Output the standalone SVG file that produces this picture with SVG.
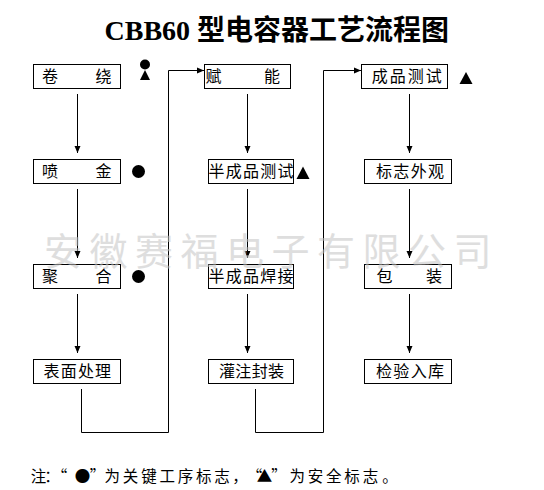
<svg xmlns="http://www.w3.org/2000/svg" width="544" height="490" viewBox="0 0 544 490">
<style>
.box{fill:#fff;stroke:#000;stroke-width:1}
.lbl{font-family:"Noto Sans CJK SC","Noto Sans",sans-serif;font-size:16px;fill:#000;text-anchor:middle}
.ln{fill:none;stroke:#000;stroke-width:1}
.mk{fill:#000}
.title{font-family:"Liberation Serif","Noto Sans CJK SC",serif;font-size:28px;font-weight:bold;fill:#000}
.wm{font-family:"Noto Sans CJK SC",sans-serif;font-size:38px;fill:#c4c4c4;opacity:0.55;letter-spacing:7.5px}
.note{font-family:"Noto Sans CJK SC",sans-serif;font-size:15.5px;fill:#000;text-anchor:middle}
</style>
<defs>
<marker id="ah" markerUnits="userSpaceOnUse" markerWidth="8" markerHeight="8" viewBox="0 0 8 8" refX="7" refY="4" orient="auto">
<path d="M0,1 L7,4 L0,7 z" fill="#000"/>
</marker>
</defs>
<rect width="544" height="490" fill="#fff"/>
<text class="title" x="104.5" y="39.5">CBB60 型电容器工艺流程图</text>

<g id="connectors">
<line class="ln" x1="77.5" y1="94" x2="77.5" y2="153" marker-end="url(#ah)"/>
<line class="ln" x1="77.5" y1="189" x2="77.5" y2="258" marker-end="url(#ah)"/>
<line class="ln" x1="77.5" y1="294" x2="77.5" y2="353" marker-end="url(#ah)"/>
<path class="ln" d="M81.5,389 V432.5 H168.5 V70.5 H204" marker-end="url(#ah)"/>
<line class="ln" x1="247.5" y1="94" x2="247.5" y2="153" marker-end="url(#ah)"/>
<line class="ln" x1="247.5" y1="189" x2="247.5" y2="258" marker-end="url(#ah)"/>
<line class="ln" x1="247.5" y1="294" x2="247.5" y2="353" marker-end="url(#ah)"/>
<path class="ln" d="M255.5,389 V432.5 H323.5 V70.5 H361" marker-end="url(#ah)"/>
<line class="ln" x1="409.5" y1="94" x2="409.5" y2="153" marker-end="url(#ah)"/>
<line class="ln" x1="409.5" y1="189" x2="409.5" y2="258" marker-end="url(#ah)"/>
<line class="ln" x1="409.5" y1="294" x2="409.5" y2="353" marker-end="url(#ah)"/>
</g>

<g id="n-juanrao">
<rect class="box" x="33.5" y="64.5" width="87" height="24"/>
<text class="lbl" x="50 103.4" y="82">卷绕</text>
<circle class="mk" cx="145" cy="64.5" r="5"/>
<path class="mk" d="M145,70 L150,80 L140,80 z"/>
</g>
<g id="n-penjin">
<rect class="box" x="33.5" y="159.5" width="87" height="24"/>
<text class="lbl" x="50 103.4" y="177">喷金</text>
<circle class="mk" cx="138.5" cy="171.5" r="6.5"/>
</g>
<g id="n-juhe">
<rect class="box" x="33.5" y="264.5" width="87" height="24"/>
<text class="lbl" x="50 103.4" y="282">聚合</text>
<circle class="mk" cx="138.5" cy="276.5" r="6.5"/>
</g>
<g id="n-biaomian">
<rect class="box" x="33.5" y="359.5" width="87" height="24"/>
<text class="lbl" x="51.6 68.7 85.9 103" y="377">表面处理</text>
</g>

<g id="n-funeng">
<rect class="box" x="204.5" y="64.5" width="86" height="24"/>
<text class="lbl" x="213.5 272" y="82">赋能</text>
</g>
<g id="n-bcpcs">
<rect class="box" x="208.5" y="159.5" width="85" height="24"/>
<text class="lbl" x="216.5 233.8 251 268.3 285.5" y="177">半成品测试</text>
<path class="mk" d="M303,166.5 L309.5,179 L296.5,179 z"/>
</g>
<g id="n-bcphj">
<rect class="box" x="208.5" y="264.5" width="85" height="24"/>
<text class="lbl" x="216.5 233.8 251 268.3 285.5" y="282">半成品焊接</text>
</g>
<g id="n-guanzhu">
<rect class="box" x="208.5" y="359.5" width="85" height="24"/>
<text class="lbl" x="227 243.3 259.7 276" y="377">灌注封装</text>
</g>

<g id="n-cpcs">
<rect class="box" x="361.5" y="64.5" width="86" height="24"/>
<text class="lbl" x="379.7 397.7 415.7 433.7" y="82">成品测试</text>
<path class="mk" d="M466,72 L472.5,84 L459.5,84 z"/>
</g>
<g id="n-bzwg">
<rect class="box" x="364.5" y="159.5" width="87" height="24"/>
<text class="lbl" x="384 401.3 418.7 436" y="177">标志外观</text>
</g>
<g id="n-baozhuang">
<rect class="box" x="364.5" y="264.5" width="87" height="24"/>
<text class="lbl" x="384.5 434" y="282">包装</text>
</g>
<g id="n-jianyan">
<rect class="box" x="364.5" y="359.5" width="87" height="24"/>
<text class="lbl" x="384 401.3 418.7 436" y="377">检验入库</text>
</g>

<text class="wm" x="44" y="265">安徽赛福电子有限公司</text>

<text class="note" x="38.5 52 59.5 82.5 97.5 112.3 130.6 148.9 167.2 185.5 203.8 222.1 240 254.5 264.5 279 297.2 315.5 333.8 352.1 370.4 390" y="482">注：“●”为关键工序标志，“▲”为安全标志。</text>
</svg>
